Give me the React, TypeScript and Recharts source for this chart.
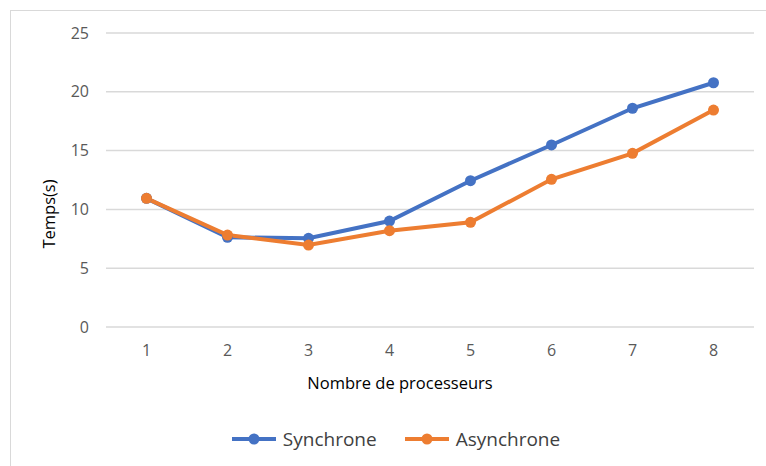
import { CartesianGrid, Legend, Line, LineChart, XAxis, YAxis } from 'recharts'

const processeurs = ['1', '2', '3', '4', '5', '6', '7', '8']
const synchrone = [10.94, 7.63, 7.54, 9.01, 12.44, 15.48, 18.6, 20.77]
const asynchrone = [10.94, 7.82, 6.97, 8.19, 8.9, 12.56, 14.77, 18.45]
const yTicks = [0, 5, 10, 15, 20, 25]

const BLUE = '#4472c4'
const ORANGE = '#ed7d31'
const FONT = '"Open Sans", "Noto Sans", sans-serif'

const data = processeurs.map((p, i) => ({
  p,
  sync: synchrone[i],
  async: asynchrone[i],
}))

function LegendItem({ color, label }: { color: string; label: string }) {
  return (
    <div style={{ display: 'flex', alignItems: 'center' }}>
      <svg width={44} height={14}>
        <line x1={0} y1={7} x2={44} y2={7} stroke={color} strokeWidth={4} />
        <circle cx={22} cy={7} r={5.5} fill={color} />
      </svg>
      <span style={{ marginLeft: 7, fontSize: 19, color: '#404040', fontFamily: FONT }}>{label}</span>
    </div>
  )
}

function ChartLegend() {
  return (
    <div style={{ display: 'flex', justifyContent: 'center', gap: 28, paddingLeft: 38, height: 34, alignItems: 'center' }}>
      <LegendItem color={BLUE} label="Synchrone" />
      <LegendItem color={ORANGE} label="Asynchrone" />
    </div>
  )
}

// axis titles sit a bit off-centre in the original, so place them by hand
function XTitle({ viewBox }: any) {
  const cx = viewBox.x + viewBox.width / 2 - 30
  return (
    <text x={cx} y={viewBox.y + 62} textAnchor="middle" fontSize={16.5} fill="#000">
      Nombre de processeurs
    </text>
  )
}

function YTitle({ viewBox }: any) {
  const cx = 48
  const cy = viewBox.y + viewBox.height / 2 + 34
  return (
    <text
      x={cx}
      y={cy}
      textAnchor="middle"
      dominantBaseline="central"
      fontSize={16.5}
      fill="#000"
      transform={`rotate(-90, ${cx}, ${cy})`}
    >
      Temps(s)
    </text>
  )
}

export default function App() {
  return (
    <div style={{ position: 'absolute', left: 0, top: 0, width: 766, height: 466, background: '#fff' }}>
      <div
        style={{
          position: 'absolute',
          left: 10,
          top: 10,
          right: 0,
          bottom: 0,
          borderLeft: '1.5px solid #d9d9d9',
          borderTop: '1.5px solid #d9d9d9',
        }}
      />
      <LineChart
        width={766}
        height={466}
        data={data}
        margin={{ top: 33, right: 12, left: 0, bottom: 0 }}
        style={{ fontFamily: FONT }}
      >
        <CartesianGrid vertical={false} stroke="#d9d9d9" strokeWidth={1.5} />
        <XAxis
          dataKey="p"
          axisLine={false}
          tickLine={false}
          tickSize={0}
          tickMargin={18}
          height={105}
          padding={{ left: 40.5, right: 40.5 }}
          tick={{ fontSize: 16, fill: '#595959' }}
          label={(props: any) => <XTitle {...props} />}
        />
        <YAxis
          domain={[0, 25]}
          ticks={yTicks}
          width={106}
          axisLine={false}
          tickLine={false}
          tickSize={0}
          tickMargin={17}
          tick={{ fontSize: 16, fill: '#595959' }}
          label={(props: any) => <YTitle {...props} />}
        />
        <Legend verticalAlign="bottom" content={() => <ChartLegend />} wrapperStyle={{ bottom: 10, height: 34 }} />
        <Line
          dataKey="sync"
          name="Synchrone"
          stroke={BLUE}
          strokeWidth={4}
          dot={{ r: 5.5, fill: BLUE, stroke: BLUE, strokeWidth: 0 }}
          isAnimationActive={false}
        />
        <Line
          dataKey="async"
          name="Asynchrone"
          stroke={ORANGE}
          strokeWidth={4}
          dot={{ r: 5.5, fill: ORANGE, stroke: ORANGE, strokeWidth: 0 }}
          isAnimationActive={false}
        />
      </LineChart>
    </div>
  )
}
